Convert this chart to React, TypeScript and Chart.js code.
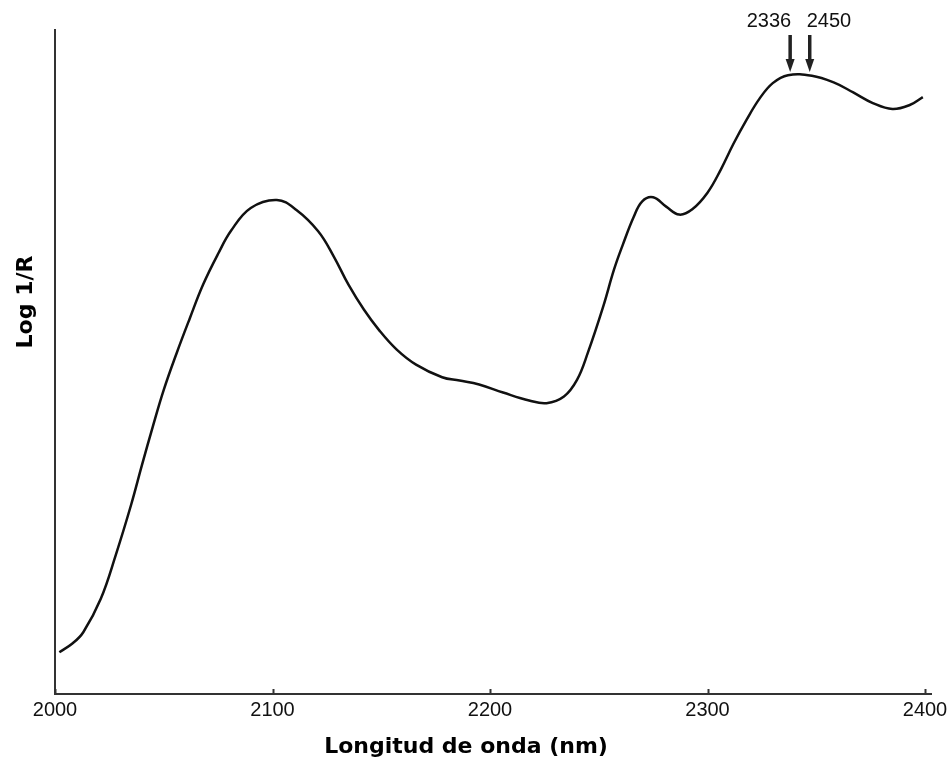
import React, { useEffect, useRef } from "react";
import { Chart, registerables } from "chart.js";

Chart.register(...registerables);

const wavelengths = [2002, 2008, 2013, 2021, 2028, 2035, 2040, 2045, 2050, 2056, 2062, 2068, 2075, 2081, 2090, 2102, 2111, 2121, 2128, 2135, 2142, 2149, 2157, 2166, 2178, 2186, 2195, 2206, 2218, 2226, 2234, 2240, 2245, 2252, 2257, 2261, 2266, 2270, 2275, 2281, 2287, 2293, 2300, 2306, 2312, 2318, 2324, 2330, 2337, 2348, 2358, 2367, 2376, 2385, 2393, 2399];
const logR = [6.3, 7.6, 9.3, 14.3, 21.0, 28.5, 34.5, 40.3, 45.8, 51.4, 56.6, 61.6, 66.3, 69.8, 73.2, 74.4, 72.9, 69.7, 66.0, 61.6, 57.9, 54.8, 51.9, 49.6, 47.7, 47.2, 46.6, 45.4, 44.2, 43.8, 44.8, 47.3, 51.4, 58.3, 63.9, 67.6, 71.8, 74.2, 74.8, 73.4, 72.2, 73.0, 75.5, 78.9, 82.9, 86.5, 89.7, 92.0, 93.2, 93.1, 92.1, 90.6, 89.0, 88.1, 88.7, 89.9];
const xTicks = [2000, 2100, 2200, 2300, 2400];
const arrowPositions = [2338, 2347];
const arrowLabels = ["2336", "2450"];
const xTitle = "Longitud de onda (nm)";
const yTitle = "Log 1/R";

const decorPlugin = {
  id: "decor",
  afterDraw(chart: any) {
    const ctx = chart.ctx;
    const { left, right, top, bottom } = chart.chartArea;
    const xs = chart.scales.x;
    ctx.save();
    ctx.strokeStyle = "#333";
    ctx.lineWidth = 2;
    xTicks.forEach((t) => {
      const px = Math.round(xs.getPixelForValue(t)) + 0.5;
      ctx.beginPath();
      ctx.moveTo(px, bottom);
      ctx.lineTo(px, bottom - 5);
      ctx.stroke();
    });
    ctx.beginPath();
    ctx.moveTo(right, bottom);
    ctx.lineTo(right + 7, bottom);
    ctx.stroke();
    ctx.fillStyle = "#222";
    ctx.strokeStyle = "#222";
    arrowPositions.forEach((a) => {
      const px = xs.getPixelForValue(a);
      ctx.lineWidth = 3.5;
      ctx.beginPath();
      ctx.moveTo(px, top + 5);
      ctx.lineTo(px, top + 32);
      ctx.stroke();
      ctx.beginPath();
      ctx.moveTo(px - 4.5, top + 29);
      ctx.lineTo(px + 4.5, top + 29);
      ctx.lineTo(px, top + 42);
      ctx.closePath();
      ctx.fill();
    });
    ctx.font = "20px 'Liberation Sans', Arial, sans-serif";
    ctx.fillStyle = "#111";
    ctx.textBaseline = "alphabetic";
    ctx.textAlign = "right";
    ctx.fillText(arrowLabels[0], xs.getPixelForValue(arrowPositions[0]) + 1, top - 3);
    ctx.textAlign = "left";
    ctx.fillText(arrowLabels[1], xs.getPixelForValue(arrowPositions[1]) - 3, top - 3);
    ctx.font = "bold 22px 'DejaVu Sans', sans-serif";
    ctx.fillStyle = "#000";
    ctx.textAlign = "center";
    ctx.fillText(xTitle, (left + right) / 2 - 24, bottom + 59);
    ctx.translate(left - 23, (top + bottom) / 2 - 60);
    ctx.rotate(-Math.PI / 2);
    ctx.fillText(yTitle, 0, 0);
    ctx.restore();
  },
};

export default function App() {
  const ref = useRef<HTMLCanvasElement | null>(null);
  useEffect(() => {
    document.body.style.margin = "0";
    const canvas = ref.current!;
    const chart = new Chart(canvas, {
      type: "line",
      data: {
        datasets: [
          {
            data: wavelengths.map((w, i) => ({ x: w, y: logR[i] })),
            borderColor: "#111",
            borderWidth: 2.5,
            pointRadius: 0,
            tension: 0.4,
            fill: false,
          },
        ],
      },
      options: {
        responsive: false,
        animation: false,
        layout: { padding: { left: 55, right: 22, top: 30, bottom: 39 } },
        plugins: { legend: { display: false }, tooltip: { enabled: false } },
        scales: {
          x: {
            type: "linear",
            min: 2000,
            max: 2400,
            afterBuildTicks: (scale: any) => {
              scale.ticks = xTicks.map((v) => ({ value: v }));
            },
            afterFit: (scale: any) => {
              scale.paddingLeft = 0;
              scale.paddingRight = 0;
            },
            grid: { display: false, drawTicks: false },
            border: { display: true, color: "#333", width: 2 },
            ticks: {
              color: "#111",
              padding: 4,
              maxRotation: 0,
              autoSkip: false,
              font: { family: "'Liberation Sans', Arial, sans-serif", size: 20 },
              callback: (v: any) => String(v),
            },
          },
          y: {
            min: 0,
            max: 100,
            grid: { display: false, drawTicks: false },
            border: { display: true, color: "#333", width: 2 },
            ticks: { display: false },
          },
        },
      },
      plugins: [decorPlugin],
    });
    return () => chart.destroy();
  }, []);
  return <canvas ref={ref} width={947} height={765} style={{ display: "block" }} />;
}
